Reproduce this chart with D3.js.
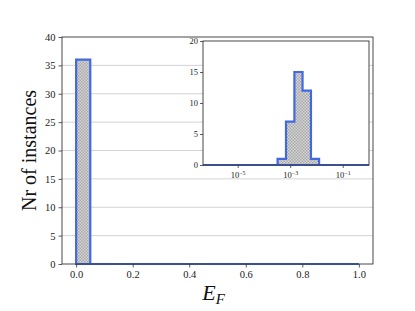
<!DOCTYPE html>
<html>
<head>
<meta charset="utf-8">
<script src="https://cdn.jsdelivr.net/npm/d3@7"></script>
<style>
  body { margin: 0; background: #fff; }
  svg { display: block; font-family: "Liberation Serif", "DejaVu Serif", serif; }
</style>
</head>
<body>
<div id="vis"></div>
<script>
const WIDTH = 415;
const HEIGHT = 311;

// main histogram: 20 bins between 0 and 1
const mainEdges = [0, 0.05, 0.1, 0.15, 0.2, 0.25, 0.3, 0.35, 0.4, 0.45, 0.5,
  0.55, 0.6, 0.65, 0.7, 0.75, 0.8, 0.85, 0.9, 0.95, 1.0];
const mainCounts = [36, 0, 0, 0, 0, 0, 0, 0, 0, 0, 0, 0, 0, 0, 0, 0, 0, 0, 0, 0];
const mainXTicks = [0, 0.2, 0.4, 0.6, 0.8, 1.0];
const mainYTicks = [0, 5, 10, 15, 20, 25, 30, 35, 40];

// inset: same data on log bins (exponents of 10)
const insetEdgesExp = [-6.32, -6.00, -5.69, -5.37, -5.06, -4.74, -4.42, -4.11, -3.79,
  -3.48, -3.16, -2.84, -2.53, -2.21, -1.90, -1.58, -1.26, -0.95, -0.63, -0.32, 0];
const insetCounts = [0, 0, 0, 0, 0, 0, 0, 0, 0, 1, 7, 15, 12, 1, 0, 0, 0, 0, 0, 0];
const insetXTicksExp = [-5, -3, -1];
const insetYTicks = [0, 5, 10, 15, 20];

const EDGE = "#4169e1";
const SPINE = "#333";
const FONT = "'Liberation Serif', serif";

const svg = d3.select("#vis").append("svg")
  .attr("width", WIDTH).attr("height", HEIGHT);

// hatch pattern (grey checker like matplotlib 'xxxx')
const defs = svg.append("defs");
const pat = defs.append("pattern")
  .attr("id", "hatch")
  .attr("patternUnits", "userSpaceOnUse")
  .attr("width", 3).attr("height", 3);
pat.append("rect").attr("width", 3).attr("height", 3).attr("fill", "#d6d6d6");
pat.append("rect").attr("x", 0).attr("y", 0).attr("width", 1.5).attr("height", 1.5).attr("fill", "#a8a8a8");
pat.append("rect").attr("x", 1.5).attr("y", 1.5).attr("width", 1.5).attr("height", 1.5).attr("fill", "#a8a8a8");

function stepPath(edges, counts, x, y) {
  // outline of a stepfilled histogram
  let p = d3.path();
  p.moveTo(x(edges[0]), y(0));
  counts.forEach((c, i) => {
    p.lineTo(x(edges[i]), y(c));
    p.lineTo(x(edges[i + 1]), y(c));
  });
  p.lineTo(x(edges[edges.length - 1]), y(0));
  p.closePath();
  return p.toString();
}

// ---------- main axes ----------
const M = { left: 62, right: 373, top: 37, bottom: 264 };

const x = d3.scaleLinear().domain([-0.05, 1.05]).range([M.left, M.right]);
const y = d3.scaleLinear().domain([0, 40]).range([M.bottom, M.top]);

const main = svg.append("g");

// grid
main.selectAll(".grid")
  .data(mainYTicks.filter(t => t > 0 && t < 40))
  .join("line")
  .attr("x1", M.left).attr("x2", M.right)
  .attr("y1", d => y(d)).attr("y2", d => y(d))
  .attr("stroke", "#c8c8c8").attr("stroke-width", 0.8);

main.append("path")
  .attr("d", stepPath(mainEdges, mainCounts, x, y))
  .attr("fill", "url(#hatch)")
  .attr("stroke", EDGE)
  .attr("stroke-width", 2.2)
  .attr("stroke-linejoin", "miter");

const xAxis = main.append("g")
  .attr("transform", `translate(0,${M.bottom})`)
  .call(d3.axisBottom(x).tickValues(mainXTicks).tickFormat(d3.format(".1f")).tickSize(3.5).tickPadding(3));
const yAxis = main.append("g")
  .attr("transform", `translate(${M.left},0)`)
  .call(d3.axisLeft(y).tickValues(mainYTicks).tickFormat(d3.format("d")).tickSize(3.5).tickPadding(3));

[xAxis, yAxis].forEach(a => {
  a.select(".domain").remove();
  a.selectAll("line").attr("stroke", SPINE).attr("stroke-width", 0.8);
  a.selectAll("text").attr("font-family", FONT).attr("font-size", 10.5).attr("fill", "#222");
});

main.append("rect")
  .attr("x", M.left).attr("y", M.top)
  .attr("width", M.right - M.left).attr("height", M.bottom - M.top)
  .attr("fill", "none").attr("stroke", SPINE).attr("stroke-width", 0.9);

main.append("text")
  .attr("transform", `translate(36,${(M.top + M.bottom) / 2}) rotate(-90)`)
  .attr("text-anchor", "middle")
  .attr("font-family", FONT)
  .attr("font-size", 20)
  .attr("fill", "#111")
  .text("Nr of instances");

const xl = main.append("text")
  .attr("x", (M.left + M.right) / 2 - 4)
  .attr("y", 300)
  .attr("text-anchor", "middle")
  .attr("font-family", FONT)
  .attr("font-size", 22)
  .attr("font-style", "italic")
  .attr("fill", "#111");
xl.append("tspan").text("E");
xl.append("tspan").attr("font-size", 15).attr("dy", 4).text("F");

// ---------- inset ----------
const I = { left: 203, right: 369, top: 41, bottom: 165 };

const xi = d3.scaleLog()
  .domain([Math.pow(10, insetEdgesExp[0]), Math.pow(10, insetEdgesExp[insetEdgesExp.length - 1])])
  .range([I.left, I.right]);
const yi = d3.scaleLinear().domain([0, 20]).range([I.bottom, I.top]);

const inset = svg.append("g");

inset.append("rect")
  .attr("x", I.left).attr("y", I.top)
  .attr("width", I.right - I.left).attr("height", I.bottom - I.top)
  .attr("fill", "#fff");

const insetEdges = insetEdgesExp.map(e => Math.pow(10, e));
inset.append("path")
  .attr("d", stepPath(insetEdges, insetCounts, xi, yi))
  .attr("fill", "url(#hatch)")
  .attr("stroke", EDGE)
  .attr("stroke-width", 2.2);

const xiAxis = inset.append("g")
  .attr("transform", `translate(0,${I.bottom})`)
  .call(d3.axisBottom(xi).tickValues(insetXTicksExp.map(e => Math.pow(10, e))).tickFormat("").tickSize(3).tickPadding(2));
const yiAxis = inset.append("g")
  .attr("transform", `translate(${I.left},0)`)
  .call(d3.axisLeft(yi).tickValues(insetYTicks).tickFormat(d3.format("d")).tickSize(3).tickPadding(2));

[xiAxis, yiAxis].forEach(a => {
  a.select(".domain").remove();
  a.selectAll("line").attr("stroke", SPINE).attr("stroke-width", 0.8);
  a.selectAll("text").attr("font-family", FONT).attr("font-size", 8.5).attr("fill", "#222");
});

// log tick labels 10^e
xiAxis.selectAll(".tick").each(function(d, i) {
  const t = d3.select(this).append("text")
    .attr("y", 13)
    .attr("text-anchor", "middle")
    .attr("font-family", FONT)
    .attr("font-size", 8.5)
    .attr("fill", "#222");
  t.append("tspan").text("10");
  t.append("tspan").attr("font-size", 6).attr("dy", -3.5).text("\u2212" + Math.abs(insetXTicksExp[i]));
});

inset.append("rect")
  .attr("x", I.left).attr("y", I.top)
  .attr("width", I.right - I.left).attr("height", I.bottom - I.top)
  .attr("fill", "none").attr("stroke", SPINE).attr("stroke-width", 0.9);
</script>
</body>
</html>
